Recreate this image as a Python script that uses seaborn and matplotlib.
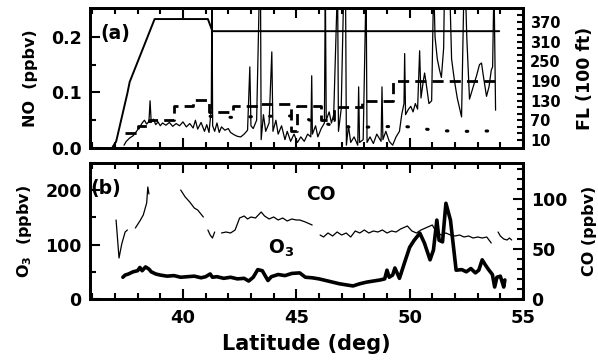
import numpy as np
import pandas as pd
import matplotlib
matplotlib.use("Agg")
import matplotlib.pyplot as plt
import seaborn as sns
from matplotlib.ticker import MultipleLocator, FixedLocator

# ---- panel (a): NO and flight level ----
no_lat = [37.40, 37.50, 37.65, 37.80, 37.95, 38.10, 38.20, 38.30, 38.40, 38.50,
          38.55, 38.60, 38.70, 38.80, 38.90, 39.00, 39.10, 39.25, 39.40, 39.55,
          39.70, 39.85, 40.00, 40.15, 40.30, 40.45, 40.55, 40.65, 40.80, 40.95,
          41.05, 41.15, 41.25, 41.28, 41.31, 41.40, 41.50, 41.60, 41.70, 41.85,
          42.00, 42.10, 42.25, 42.40, 42.55, 42.70, 42.85, 42.95, 43.00, 43.10,
          43.25, 43.38, 43.42, 43.45, 43.55, 43.65, 43.80, 43.92, 43.97, 44.10,
          44.20, 44.35, 44.50, 44.60, 44.75, 44.90, 45.05, 45.20, 45.35, 45.50,
          45.64, 45.68, 45.71, 45.85, 45.95, 46.10, 46.24, 46.28, 46.32, 46.45,
          46.55, 46.65, 46.82, 46.86, 46.98, 47.10, 47.17, 47.21, 47.30, 47.40,
          47.55, 47.71, 47.75, 47.79, 47.95, 48.08, 48.12, 48.25, 48.40, 48.55,
          48.74, 48.78, 48.82, 48.95, 49.10, 49.25, 49.40, 49.55, 49.65, 49.75,
          49.78, 49.82, 49.95, 50.05, 50.15, 50.25, 50.35, 50.44, 50.50, 50.60,
          50.66, 50.75, 50.85, 50.97, 51.06, 51.12, 51.22, 51.32, 51.40, 51.50,
          51.54, 51.62, 51.72, 51.76, 51.85, 51.98, 52.10, 52.29, 52.40, 52.45,
          52.52, 52.64, 52.80, 52.95, 53.08, 53.17, 53.25, 53.39, 53.50, 53.60,
          53.66, 53.72, 53.79]
no_ppbv = [0.005, 0.012, 0.018, 0.022, 0.030, 0.038, 0.045, 0.050, 0.043, 0.048,
           0.085, 0.046, 0.052, 0.042, 0.047, 0.040, 0.045, 0.041, 0.046, 0.039,
           0.044, 0.040, 0.047, 0.038, 0.044, 0.036, 0.050, 0.034, 0.046, 0.030,
           0.042, 0.028, 0.070, 0.300, 0.040, 0.030, 0.045, 0.028, 0.038, 0.032,
           0.035, 0.028, 0.024, 0.021, 0.020, 0.025, 0.032, 0.146, 0.040, 0.035,
           0.050, 0.300, 0.300, 0.015, 0.060, 0.030, 0.045, 0.173, 0.030, 0.050,
           0.025, 0.040, 0.015, 0.030, 0.012, 0.025, 0.010, 0.020, 0.012, 0.025,
           0.020, 0.130, 0.025, 0.040, 0.020, 0.035, 0.045, 0.300, 0.050, 0.065,
           0.045, 0.060, 0.300, 0.030, 0.070, 0.300, 0.300, 0.005, 0.040, 0.010,
           0.020, 0.005, 0.110, 0.010, 0.015, 0.300, 0.010, 0.020, 0.008, 0.025,
           0.012, 0.110, 0.015, 0.030, 0.012, 0.005, 0.020, 0.030, 0.060, 0.080,
           0.170, 0.060, 0.070, 0.075, 0.065, 0.080, 0.070, 0.175, 0.090, 0.120,
           0.135, 0.110, 0.080, 0.085, 0.300, 0.200, 0.160, 0.140, 0.127, 0.180,
           0.300, 0.300, 0.300, 0.300, 0.160, 0.120, 0.090, 0.056, 0.300, 0.300,
           0.200, 0.088, 0.110, 0.130, 0.150, 0.153, 0.130, 0.093, 0.110, 0.140,
           0.146, 0.300, 0.068]

fl_lat = [36.90, 37.05, 37.10, 37.55, 37.65, 38.75, 41.10, 41.30, 53.95]
fl_level = [-11, 5, 19, 153, 187, 379, 379, 342, 342]

step_lat = [37.45, 38.00, 38.50, 39.60, 40.45, 41.15, 42.20, 43.30, 44.78,
            45.05, 46.10, 46.65, 47.90, 49.25, 53.95]
step_no = [0.027, 0.040, 0.050, 0.075, 0.087, 0.064, 0.075, 0.080, 0.030,
           0.075, 0.050, 0.073, 0.084, 0.120, 0.120]

dot_lat = [41.20, 42.20, 43.50, 45.20, 45.70, 46.50, 47.50, 48.50, 49.50,
           50.00, 50.70, 51.40, 52.50, 54.00]
dot_no = [0.057, 0.055, 0.057, 0.058, 0.048, 0.042, 0.037, 0.038, 0.039,
          0.038, 0.034, 0.031, 0.030, 0.031]

# ---- panel (b): O3 and CO ----
o3_lat = [37.35, 37.45, 37.60, 37.80, 38.00, 38.10, 38.20, 38.35, 38.50, 38.60,
          38.80, 39.00, 39.30, 39.60, 39.90, 40.20, 40.50, 40.80, 41.00, 41.20,
          41.30, 41.50, 41.80, 42.10, 42.40, 42.70, 42.90, 43.10, 43.30, 43.50,
          43.75, 43.90, 44.20, 44.50, 44.80, 45.15, 45.40, 45.70, 46.00, 46.30,
          46.60, 46.90, 47.20, 47.50, 47.80, 48.10, 48.40, 48.70, 48.90, 49.00,
          49.10, 49.25, 49.35, 49.55, 49.80, 50.00, 50.20, 50.45, 50.65, 50.90,
          51.05, 51.20, 51.30, 51.45, 51.60, 51.80, 52.05, 52.30, 52.50, 52.70,
          52.90, 53.05, 53.20, 53.35, 53.50, 53.65, 53.75, 53.85, 54.00, 54.10,
          54.15, 54.20]
o3_ppbv = [40, 44, 46, 50, 52, 58, 52, 59, 55, 50,
           46, 44, 42, 43, 40, 41, 42, 39, 41, 46,
           40, 41, 38, 40, 37, 38, 33, 40, 54, 52,
           34, 41, 45, 43, 47, 48, 40, 39, 37, 34,
           31, 28, 26, 24, 28, 31, 33, 35, 37, 53,
           40, 44, 57, 38, 70, 95, 108, 121, 103, 72,
           90, 145, 108, 105, 176, 145, 53, 54, 50, 56,
           48, 53, 72, 62, 53, 45, 22, 40, 42, 29,
           22, 35]

co_seg = [0] * 5 + [1] * 6 + [2] * 6 + [3] * 4 + [4] * 22 + [5] * 38 + [6] * 6
co_lat = [37.05, 37.18, 37.30, 37.45, 37.55,
          37.90, 38.10, 38.25, 38.40, 38.45, 38.50,
          39.90, 40.10, 40.30, 40.50, 40.65, 40.90,
          41.10, 41.20, 41.30, 41.40,
          41.70, 41.90, 42.10, 42.30, 42.40, 42.50, 42.70, 42.85, 43.00, 43.20,
          43.45, 43.60, 43.80, 44.00, 44.20, 44.40, 44.60, 44.80, 45.00, 45.15,
          45.40, 45.70,
          46.05, 46.20, 46.40, 46.60, 46.80, 47.00, 47.20, 47.40, 47.60, 47.80,
          48.00, 48.20, 48.40, 48.60, 48.80, 49.00, 49.20, 49.40, 49.60, 49.90,
          50.10, 50.30, 50.50, 50.80, 51.00, 51.20, 51.40, 51.60, 51.80, 52.00,
          52.20, 52.40, 52.60, 52.80, 53.00, 53.20, 53.40, 53.60,
          53.90, 54.00, 54.15, 54.30, 54.40, 54.50]
co_ppbv = [79, 41, 55, 67, 69,
           71, 78, 84, 96, 112, 105,
           109, 102, 97, 91, 89, 82,
           69, 64, 61, 67,
           66, 67, 66, 69, 75, 81, 83, 80, 82, 81,
           87, 83, 80, 82, 79, 81, 78, 80, 79, 79,
           77, 74,
           64, 62, 66, 63, 67, 64, 66, 62, 68, 66,
           69, 66, 68, 67, 69, 66, 68, 67, 70, 73,
           68, 66, 69, 72, 74, 66, 64, 66, 64, 63,
           64, 62, 63, 61, 62, 61, 62, 56,
           67, 63, 60, 59, 61, 59]

no_df = pd.DataFrame({"lat": no_lat, "no": no_ppbv})
o3_df = pd.DataFrame({"lat": o3_lat, "o3": o3_ppbv})
co_df = pd.DataFrame({"lat": co_lat, "co": co_ppbv, "seg": co_seg})

sns.set_style("ticks")
plt.rcParams["font.family"] = ["DejaVu Sans"]
plt.rcParams["font.weight"] = "bold"
plt.rcParams["axes.labelweight"] = "bold"
for key in ("text.color", "axes.labelcolor", "axes.edgecolor", "xtick.color", "ytick.color"):
    plt.rcParams[key] = "black"
plt.rcParams["mathtext.fontset"] = "custom"
plt.rcParams["mathtext.rm"] = "DejaVu Sans:bold"
plt.rcParams["mathtext.bf"] = "DejaVu Sans:bold"
plt.rcParams["mathtext.default"] = "rm"
plt.rcParams["axes.linewidth"] = 2.0

fig = plt.figure(figsize=(5.98, 3.6), dpi=100)
ax_a = fig.add_axes([90 / 598, 1 - 148 / 360, 433 / 598, 140 / 360])
ax_b = fig.add_axes([90 / 598, 1 - 299 / 360, 433 / 598, 136 / 360])
ax_fl = ax_a.twinx()
ax_co = ax_b.twinx()

k = "black"
sns.lineplot(data=no_df, x="lat", y="no", ax=ax_a, color=k, lw=0.9, sort=False, estimator=None)
sns.lineplot(x=step_lat, y=step_no, ax=ax_a, color=k, lw=2.0, drawstyle="steps-post",
             dashes=(4, 2.2), estimator=None)
sns.lineplot(x=dot_lat, y=dot_no, ax=ax_a, color=k, lw=2.2, dashes=(0.5, 6),
             dash_capstyle="round", estimator=None)
sns.lineplot(x=fl_lat, y=fl_level, ax=ax_fl, color=k, lw=1.4, estimator=None)

sns.lineplot(data=o3_df, x="lat", y="o3", ax=ax_b, color=k, lw=2.6, estimator=None)
sns.lineplot(data=co_df, x="lat", y="co", units="seg", ax=ax_co, color=k, lw=0.9,
             estimator=None)

for ax in (ax_a, ax_b):
    ax.set_xlim(35.9, 55.0)
    ax.xaxis.set_major_locator(FixedLocator([40, 45, 50, 55]))
    ax.xaxis.set_minor_locator(MultipleLocator(1))
    ax.tick_params(axis="x", which="both", direction="in", top=True, bottom=True, width=1.5)
    ax.tick_params(axis="x", which="major", length=7)
    ax.tick_params(axis="x", which="minor", length=4)
    ax.tick_params(axis="y", which="both", direction="in", width=1.5, labelsize=12.5, pad=6)
    ax.tick_params(axis="y", which="major", length=7)
    ax.tick_params(axis="y", which="minor", length=4)

ax_a.set_ylim(0, 0.252)
ax_a.yaxis.set_major_locator(FixedLocator([0.0, 0.1, 0.2]))
ax_a.yaxis.set_minor_locator(MultipleLocator(0.05))
ax_a.set_yticklabels(["0.0", "0.1", "0.2"])
ax_a.tick_params(axis="x", labelbottom=False)
ax_a.set_xlabel("")
ax_a.set_ylabel("NO  (ppbv)", fontsize=11.5, labelpad=9)

ax_fl.set_ylim(-14.4, 412.7)
ax_fl.yaxis.set_major_locator(FixedLocator(list(range(10, 371, 60))))
ax_fl.yaxis.set_minor_locator(FixedLocator(list(range(10, 400, 20))))
ax_fl.tick_params(axis="y", which="both", direction="in", length=4, width=1.5,
                  labelsize=10.5, pad=5)
ax_fl.set_ylabel("FL (100 ft)", fontsize=12.5, labelpad=11)

ax_b.set_ylim(0, 250)
ax_b.yaxis.set_major_locator(FixedLocator([0, 100, 200]))
ax_b.yaxis.set_minor_locator(MultipleLocator(50))
ax_b.set_ylabel("O$_3$  (ppbv)", fontsize=11.5, labelpad=8)
ax_b.tick_params(axis="x", labelsize=13, pad=7)
ax_b.set_xlabel("Latitude (deg)", fontsize=15, labelpad=5)

ax_co.set_ylim(0, 136)
ax_co.yaxis.set_major_locator(FixedLocator([0, 50, 100]))
ax_co.yaxis.set_minor_locator(MultipleLocator(10))
ax_co.tick_params(axis="y", which="both", direction="in", width=1.5, labelsize=12.5, pad=6)
ax_co.tick_params(axis="y", which="major", length=7)
ax_co.tick_params(axis="y", which="minor", length=4)
ax_co.set_ylabel("CO (ppbv)", fontsize=11.5, labelpad=10)

ax_a.text(0.025, 0.82, "(a)", transform=ax_a.transAxes, fontsize=13.5, va="center")
ax_b.text(0.0, 0.81, "(b)", transform=ax_b.transAxes, fontsize=13.5, va="center")
ax_b.text(46.1, 193, "CO", fontsize=13.5, ha="center", va="center")
ax_b.text(44.35, 94, "O$_3$", fontsize=13.5, ha="center", va="center")

fig.savefig("out.png", dpi=100)
